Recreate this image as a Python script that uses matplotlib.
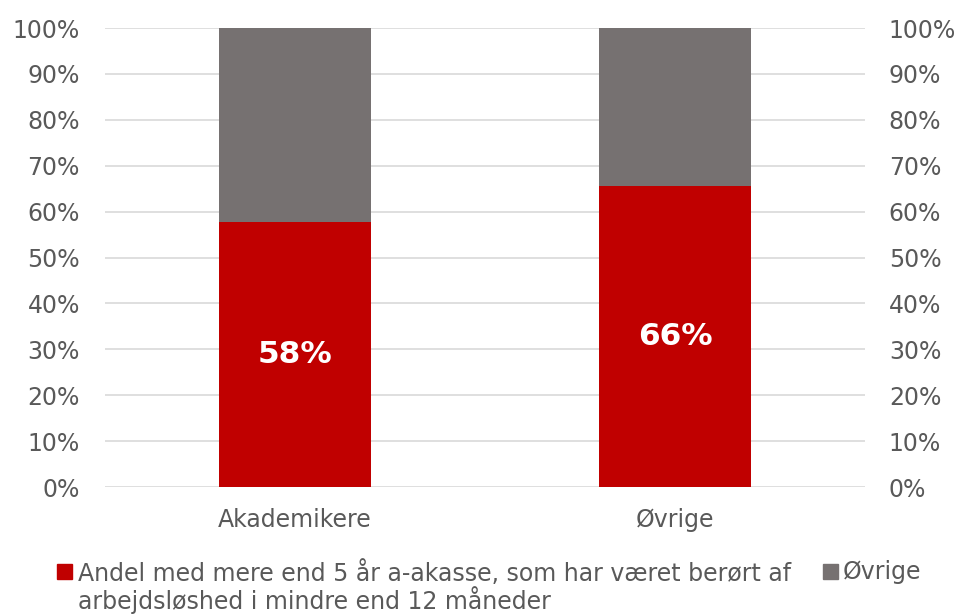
import matplotlib.pyplot as plt
from matplotlib.patches import Rectangle
from matplotlib.ticker import PercentFormatter

categories = ["Akademikere", "Øvrige"]
share_short = [57.7, 65.6]
share_rest = [42.3, 34.4]
series_names = ["Andel med mere end 5 år a-akasse, som har været berørt af\narbejdsløshed i mindre end 12 måneder",
                "Øvrige"]
yticks = list(range(0, 101, 10))

red = "#C00000"
grey = "#767171"
txt = "#595959"
fs = 17

fig = plt.figure(figsize=(9.57, 6.14), dpi=100)
ax = fig.add_axes([0.1097, 0.2068, 0.7944, 0.7475])

x = list(range(len(categories)))
ax.bar(x, share_short, width=0.4, color=red, zorder=3)
ax.bar(x, share_rest, width=0.4, bottom=share_short, color=grey, zorder=3)

for xi, v in zip(x, share_short):
    ax.text(xi, v / 2, f"{v:.0f}%", ha="center", va="center", color="white",
            fontsize=22.5, fontweight="bold", zorder=4)

ax.set_xlim(-0.5, 1.5)
ax.set_ylim(0, 100)
ax.set_yticks(yticks)
ax.yaxis.set_major_formatter(PercentFormatter(decimals=0))
ax.set_xticks(x)
ax.set_xticklabels(categories)
ax.tick_params(length=0, labelsize=fs, colors=txt, pad=18)
ax.tick_params(axis="x", pad=15)
ax.grid(axis="y", color="#D9D9D9", linewidth=1.2, zorder=0)
for s in ax.spines.values():
    s.set_visible(False)

ax2 = ax.twinx()
ax2.set_ylim(0, 100)
ax2.set_yticks(yticks)
ax2.yaxis.set_major_formatter(PercentFormatter(decimals=0))
ax2.tick_params(length=0, labelsize=fs, colors=txt, pad=17)
for s in ax2.spines.values():
    s.set_visible(False)

# legend drawn by hand so the marker sits on the first line
fig.add_artist(Rectangle((0.0596, 0.0570), 0.0157, 0.0244, transform=fig.transFigure,
                         color=red))
fig.text(0.0815, 0.0880, series_names[0], fontsize=fs, color=txt, va="top",
         linespacing=1.0)
fig.add_artist(Rectangle((0.860, 0.0570), 0.0157, 0.0244, transform=fig.transFigure,
                         color=grey))
fig.text(0.881, 0.0880, series_names[1], fontsize=fs, color=txt, va="top")

fig.savefig("out.png", dpi=100)
